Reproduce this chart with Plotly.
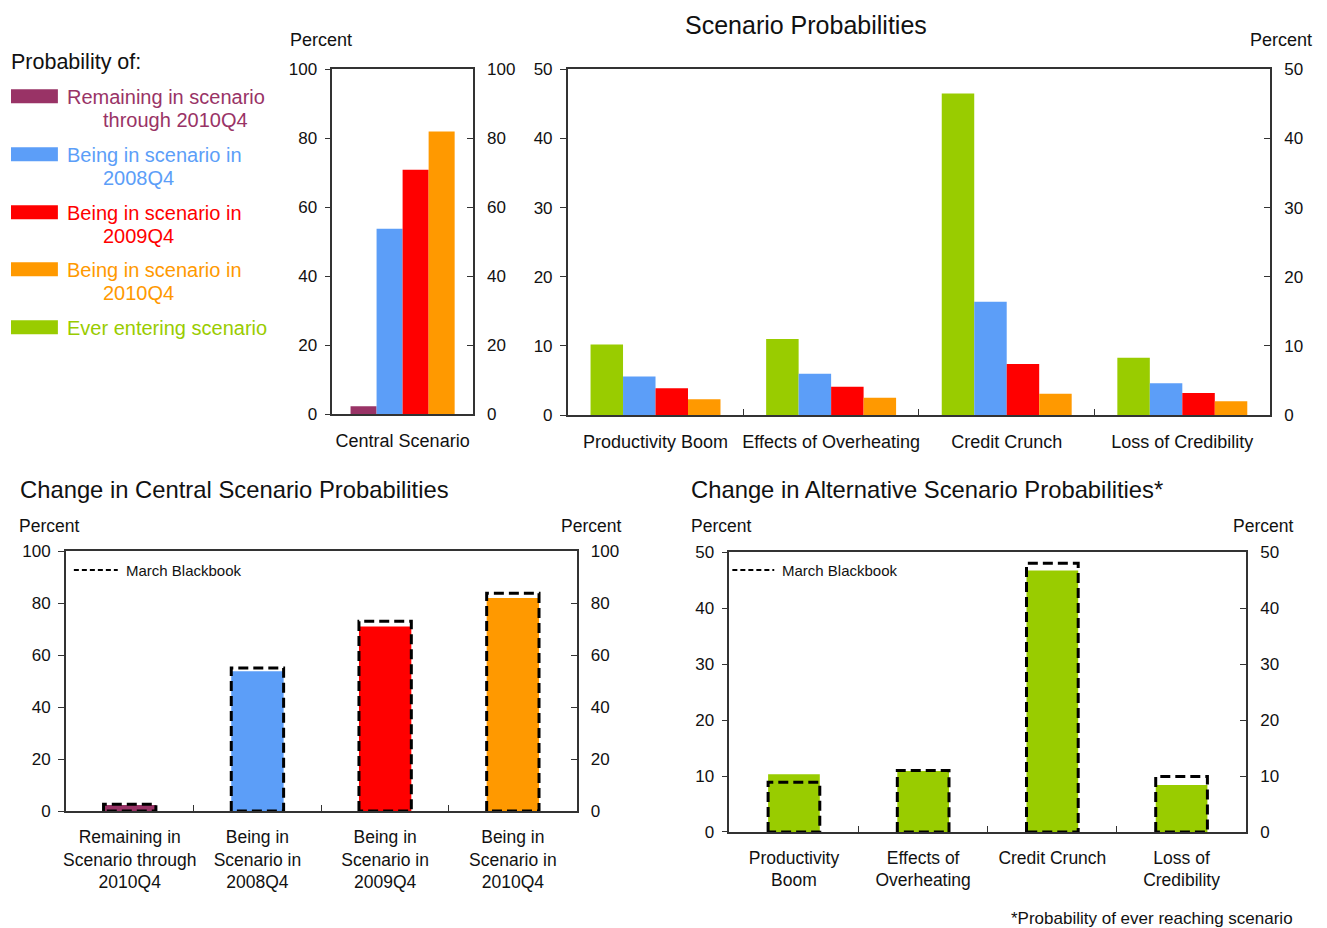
import plotly.graph_objects as go

# Layout positions below are given in window pixels; X()/Y() convert them
# to paper fractions, compensating for the page margin seen in the render.
W, H = 1311, 932
OFF_X = 8

# ---------------- data ----------------
central_series = ["Remaining in scenario through 2010Q4", "Being in scenario in 2008Q4",
                  "Being in scenario in 2009Q4", "Being in scenario in 2010Q4"]
central_values = [2.3, 53.8, 70.9, 82.0]

alt_categories = ["Productivity Boom", "Effects of Overheating", "Credit Crunch", "Loss of Credibility"]
alt_ever = [10.2, 11.0, 46.5, 8.3]
alt_2008 = [5.6, 6.0, 16.4, 4.6]
alt_2009 = [3.9, 4.1, 7.4, 3.2]
alt_2010 = [2.3, 2.5, 3.1, 2.0]

chg_central_labels = ["Remaining in<br>Scenario through<br>2010Q4", "Being in<br>Scenario in<br>2008Q4",
                      "Being in<br>Scenario in<br>2009Q4", "Being in<br>Scenario in<br>2010Q4"]
chg_central_now = [2.3, 53.8, 71.0, 82.0]
chg_central_march = [2.6, 55.0, 73.0, 83.8]

chg_alt_labels = ["Productivity<br>Boom", "Effects of<br>Overheating", "Credit Crunch", "Loss of<br>Credibility"]
chg_alt_now = [10.3, 10.9, 46.7, 8.4]
chg_alt_march = [8.9, 11.0, 48.0, 9.9]

legend_labels = [("Remaining in scenario", "through 2010Q4"), ("Being in scenario in", "2008Q4"),
                 ("Being in scenario in", "2009Q4"), ("Being in scenario in", "2010Q4"),
                 ("Ever entering scenario", "")]

# ---------------- style ----------------
PURPLE = "#993366"
BLUE = "#5C9EF8"
RED = "#FF0000"
ORANGE = "#FF9900"
GREEN = "#99CC00"
AX = "#333333"
FONT = "Liberation Sans, Arial, sans-serif"
TICKF = dict(family=FONT, size=17, color="#111111")


def X(px):
    return (px - OFF_X) / W


def Y(py):
    fy = py / 0.98 - 16
    return 1 - fy / H


fig = go.Figure()

# ---- Panel A: central scenario (x, y / y2) ----
for name, val, col in zip(central_series, central_values, [PURPLE, BLUE, RED, ORANGE]):
    fig.add_trace(go.Bar(x=[0], y=[val], name=name, marker=dict(color=col, line=dict(width=0)),
                         xaxis="x", yaxis="y", showlegend=False))
fig.add_trace(go.Scatter(x=[0], y=[central_values[0]], mode="markers", marker=dict(opacity=0),
                         xaxis="x", yaxis="y2", showlegend=False, hoverinfo="skip"))

# ---- Panel B: alternative scenarios (x2, y3 / y4) ----
xs_alt = list(range(len(alt_categories)))
for vals, col, nm in [(alt_ever, GREEN, "Ever entering scenario"), (alt_2008, BLUE, "2008Q4"),
                      (alt_2009, RED, "2009Q4"), (alt_2010, ORANGE, "2010Q4")]:
    fig.add_trace(go.Bar(x=xs_alt, y=vals, name=nm, marker=dict(color=col, line=dict(width=0)),
                         xaxis="x2", yaxis="y3", showlegend=False))
fig.add_trace(go.Scatter(x=xs_alt, y=alt_ever, mode="markers", marker=dict(opacity=0),
                         xaxis="x2", yaxis="y4", showlegend=False, hoverinfo="skip"))

# ---- Panel C: change in central (x3, y5 / y6) ----
BW = 0.41
xs_c = list(range(len(chg_central_now)))
fig.add_trace(go.Bar(x=xs_c, y=chg_central_now, width=BW,
                     marker=dict(color=[PURPLE, BLUE, RED, ORANGE], line=dict(width=0)),
                     xaxis="x3", yaxis="y5", showlegend=False))


def outline(xs, vals, w):
    px, py = [], []
    for x, v in zip(xs, vals):
        px += [x - w / 2, x - w / 2, x + w / 2, x + w / 2, x - w / 2, None]
        py += [0, v, v, 0, 0, None]
    return px, py


ox, oy = outline(xs_c, chg_central_march, BW)
fig.add_trace(go.Scatter(x=ox, y=oy, mode="lines", name="March Blackbook",
                         line=dict(color="black", width=3, dash="10px,5px"),
                         xaxis="x3", yaxis="y5", showlegend=False, connectgaps=False))
fig.add_trace(go.Scatter(x=xs_c, y=chg_central_now, mode="markers", marker=dict(opacity=0),
                         xaxis="x3", yaxis="y6", showlegend=False, hoverinfo="skip"))

# ---- Panel D: change in alternative (x4, y7 / y8) ----
BW2 = 0.40
xs_d = list(range(len(chg_alt_now)))
fig.add_trace(go.Bar(x=xs_d, y=chg_alt_now, width=BW2,
                     marker=dict(color=GREEN, line=dict(width=0)),
                     xaxis="x4", yaxis="y7", showlegend=False))
ox, oy = outline(xs_d, chg_alt_march, BW2)
fig.add_trace(go.Scatter(x=ox, y=oy, mode="lines", name="March Blackbook",
                         line=dict(color="black", width=3, dash="10px,5px"),
                         xaxis="x4", yaxis="y7", showlegend=False, connectgaps=False))
fig.add_trace(go.Scatter(x=xs_d, y=chg_alt_now, mode="markers", marker=dict(opacity=0),
                         xaxis="x4", yaxis="y8", showlegend=False, hoverinfo="skip"))


# ---------------- axes ----------------
def xax(domain, n, labels, anchor, size, boundary_ticks=True):
    d = dict(domain=domain, anchor=anchor, range=[-0.5, n - 0.5], showline=True, linecolor=AX,
             linewidth=1.5, mirror=True, showgrid=False, zeroline=False,
             tickmode="array", tickvals=list(range(n)), ticktext=labels, ticks="",
             tickfont=dict(family=FONT, size=size, color="#111111"), ticklabelstandoff=9)
    if boundary_ticks and n > 1:
        d["minor"] = dict(tickmode="array", tickvals=[i + 0.5 for i in range(n - 1)],
                          ticks="inside", ticklen=6, tickcolor=AX, tickwidth=1.2)
    return d


def yax(domain, rng, dtick, anchor, side="left", overlaying=None):
    d = dict(domain=domain, anchor=anchor, range=rng, dtick=dtick, tick0=0, showline=True,
             linecolor=AX, linewidth=1.5, showgrid=False, zeroline=False, side=side,
             ticks="outside" if side == "left" else "inside", ticklen=6, tickcolor=AX, tickwidth=1.2,
             tickfont=TICKF, ticklabelstandoff=4 if side == "left" else 9)
    if overlaying:
        d["overlaying"] = overlaying
    return d


dA_x = [X(330), X(471)]
dA_y = [Y(413), Y(68)]
dB_x = [X(566), X(1270)]
dB_y = [Y(414), Y(68)]
dC_x = [X(63), X(575)]
dC_y = [Y(810), Y(550)]
dD_x = [X(728), X(1246)]
dD_y = [Y(831), Y(551)]

fig.update_layout(
    width=W, height=H, margin=dict(l=0, r=0, t=0, b=0),
    paper_bgcolor="white", plot_bgcolor="white",
    barmode="group", bargap=0.26, bargroupgap=0,
    font=dict(family=FONT, color="#111111"),
    xaxis=xax(dA_x, 1, ["Central Scenario"], "y", 18, boundary_ticks=False),
    yaxis=yax(dA_y, [0, 100], 20, "x"),
    yaxis2=yax(dA_y, [0, 100], 20, "x", side="right", overlaying="y"),
    xaxis2=xax(dB_x, 4, alt_categories, "y3", 18),
    yaxis3=yax(dB_y, [0, 50], 10, "x2"),
    yaxis4=yax(dB_y, [0, 50], 10, "x2", side="right", overlaying="y3"),
    xaxis3=xax(dC_x, 4, chg_central_labels, "y5", 17.5),
    yaxis5=yax(dC_y, [0, 100], 20, "x3"),
    yaxis6=yax(dC_y, [0, 100], 20, "x3", side="right", overlaying="y5"),
    xaxis4=xax(dD_x, 4, chg_alt_labels, "y7", 17.5),
    yaxis7=yax(dD_y, [0, 50], 10, "x4"),
    yaxis8=yax(dD_y, [0, 50], 10, "x4", side="right", overlaying="y7"),
    hovermode=False,
)

# ---------------- annotations ----------------
ann = []


def text(x, y, s, size=16, color="#111111", xanchor="center", yanchor="middle"):
    ann.append(dict(x=X(x), y=Y(y), xref="paper", yref="paper", text=s, showarrow=False,
                    xanchor=xanchor, yanchor=yanchor,
                    font=dict(family=FONT, size=size, color=color)))


text(805, 24, "Scenario Probabilities", size=25)
text(319, 39, "Percent", size=18)
text(1281, 39, "Percent", size=18)
text(6, 61, "Probability of:", size=21.5, xanchor="left")

sw_y = [95, 153, 211, 268, 326]
sw_cols = [PURPLE, BLUE, RED, ORANGE, GREEN]
shapes = []
for (l1, l2), yy, col in zip(legend_labels, sw_y, sw_cols):
    shapes.append(dict(type="rect", xref="paper", yref="paper", x0=X(8), x1=X(55),
                       y0=Y(yy + 7), y1=Y(yy - 7), fillcolor=col, line=dict(width=0)))
    text(62, yy + 1, l1, size=20, color=col, xanchor="left")
    if l2:
        text(98, yy + 24, l2, size=20, color=col, xanchor="left")

text(15, 488, "Change in Central Scenario Probabilities", size=23.8, xanchor="left")
text(688, 488, "Change in Alternative Scenario Probabilities*", size=23.8, xanchor="left")
text(46, 525, "Percent", size=17.5)
text(589, 525, "Percent", size=17.5)
text(720, 525, "Percent", size=17.5)
text(1263, 525, "Percent", size=17.5)
text(1295, 918, "*Probability of ever reaching scenario", size=17, xanchor="right")

# March Blackbook keys
for x0, x1, yy, tx in [(71, 115, 569, 121), (731, 773, 569, 779)]:
    shapes.append(dict(type="line", xref="paper", yref="paper", x0=X(x0), x1=X(x1), y0=Y(yy), y1=Y(yy),
                       line=dict(color="black", width=2, dash="5px,3px")))
    text(tx, yy, "March Blackbook", size=15, xanchor="left")

fig.update_layout(annotations=ann, shapes=shapes)

fig.write_html("out.html")
